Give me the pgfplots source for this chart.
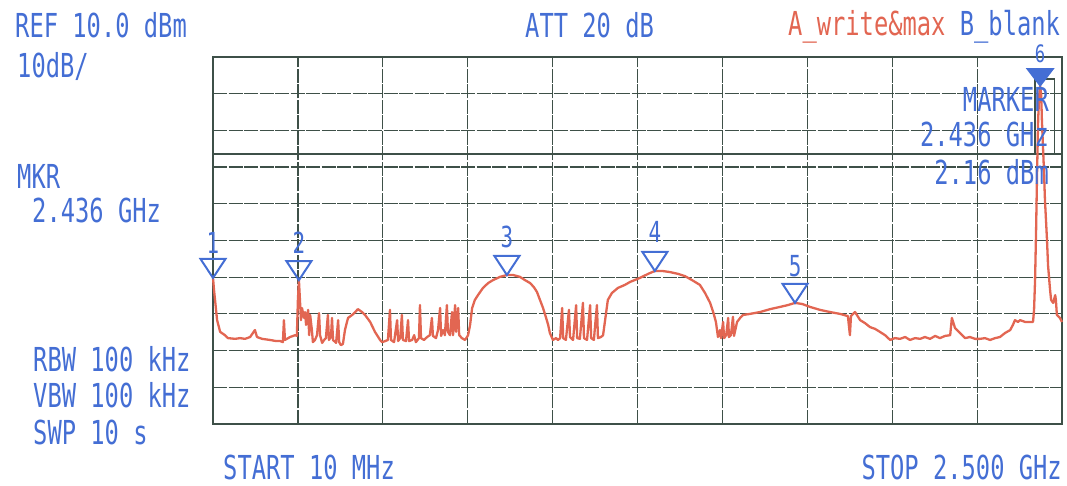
\documentclass[border=0pt]{standalone}
\usepackage{pgfplots}
\pgfplotsset{compat=1.18}
\usepackage{fontspec}
\newfontfamily\lcd[FakeStretch=0.72]{DejaVu Sans Mono}
\definecolor{txtblue}{RGB}{68,110,212}
\definecolor{trace}{RGB}{226,102,82}
\definecolor{gridc}{RGB}{62,80,72}
\pgfdeclareplotmark{mkr}{\pgfpathmoveto{\pgfpointorigin}\pgfpathlineto{\pgfpoint{-12.5pt}{19pt}}\pgfpathlineto{\pgfpoint{12.5pt}{19pt}}\pgfpathclose\pgfusepathqstroke}
\pgfdeclareplotmark{mkrf}{\pgfpathmoveto{\pgfpointorigin}\pgfpathlineto{\pgfpoint{-13pt}{17pt}}\pgfpathlineto{\pgfpoint{13pt}{17pt}}\pgfpathclose\pgfusepathqfillstroke}
\newcommand{\lcdbig}{\lcd\fontsize{33}{40}\selectfont}
\newcommand{\lcdsmall}{\lcd\fontsize{29}{34}\selectfont}
\newcommand{\lcdsix}{\lcd\fontsize{24}{28}\selectfont}
\begin{document}
\begin{tikzpicture}
\path[use as bounding box] (0pt,0pt) rectangle (1067pt,486pt);
\begin{axis}[at={(213pt,62pt)}, anchor=south west, scale only axis,
  width=849pt, height=367pt, xmin=10, xmax=2500, ymin=-90, ymax=10,
  xtick={10,259,508,757,1006,1255,1504,1753,2002,2251,2500},
  ytick={-90,-80,-70,-60,-50,-40,-30,-20,-10,0,10},
  xticklabels={}, yticklabels={}, major tick length=0pt,
  grid=major, major grid style={gridc, line width=1.2pt, dash pattern=on 14pt off 1.5pt},
  axis line style={gridc, line width=1.3pt}, clip=false]
\addplot[gridc, line width=2pt] coordinates {(10,-16.4) (2500,-16.4)};
\draw[gridc, line width=1.2pt] (axis cs:2421,-16.4) -- (axis cs:2421,4.0) -- (axis cs:2477,4.0) -- (axis cs:2477,-16.4);
\addplot[trace, line width=2.3pt, line join=round] coordinates {
(10,-50.2) (13,-53.5) (16,-56.2) (22,-61.7) (31,-64.9) (45,-65.8) (54,-66.6) (75,-66.8) (89,-66.6) (104,-66.8) (119,-66.3) (127,-65.2) (133,-64.4) (139,-66.3) (154,-66.8) (177,-67.1) (195,-67.4) (207,-67.4) (215,-67.7) (218,-61.7) (221,-67.1) (236,-66.3) (251,-65.8) (256,-66.0) (259,-56.2) (262,-50.8) (265,-56.2) (268,-61.7)
(271,-58.4) (277,-61.1) (280,-59.5) (283,-63.0) (289,-58.9) (292,-65.8) (295,-60.3) (300,-64.4) (303,-67.7) (309,-67.1) (315,-65.8) (321,-59.8) (324,-65.8) (330,-67.9) (336,-67.1) (341,-66.6) (347,-60.3) (350,-67.1) (356,-66.3) (359,-61.1) (362,-67.1) (371,-67.9) (377,-61.7) (380,-67.7) (385,-68.5) (391,-68.2)
(397,-64.4) (406,-61.1) (418,-60.3) (427,-59.5) (435,-58.7) (447,-59.5) (456,-60.3) (471,-62.2) (485,-64.9) (500,-67.1) (506,-67.7)
(515,-67.4) (523,-67.1) (529,-58.9) (532,-67.1) (541,-67.7) (550,-61.7) (553,-67.4) (559,-66.6) (564,-60.3) (567,-67.1) (576,-67.4) (582,-61.7) (585,-67.4) (594,-67.1) (600,-65.8) (605,-67.7) (614,-66.6) (617,-57.6) (620,-66.6) (629,-67.1) (638,-66.3) (646,-65.8) (652,-61.1) (655,-66.0) (664,-66.6) (670,-64.4) (676,-58.4) (679,-66.0) (685,-64.4) (690,-65.8) (696,-57.6) (699,-64.9) (705,-65.8) (711,-59.5) (714,-65.8) (720,-57.6) (723,-64.9) (729,-58.4) (732,-65.8) (740,-66.6) (749,-67.1) (755,-66.3) (758,-65.8)
(764,-63.0) (770,-58.4) (778,-56.2) (787,-54.9) (802,-52.9) (817,-51.6) (831,-50.8) (852,-49.9) (872,-49.4) (890,-49.4) (910,-49.9) (925,-50.8) (940,-51.6) (951,-52.7) (960,-54.0) (969,-56.2) (978,-58.4) (987,-61.1) (993,-63.0) (998,-65.2) (1007,-67.1) (1016,-66.6)
(1022,-67.1) (1028,-66.6) (1034,-58.4) (1037,-66.6) (1045,-67.1) (1054,-58.9) (1057,-66.3) (1066,-67.1) (1075,-57.6) (1078,-66.6) (1086,-66.8) (1095,-57.0) (1098,-66.6) (1107,-67.1) (1116,-57.6) (1119,-66.6) (1127,-67.1) (1136,-57.6) (1139,-66.6) (1148,-66.3) (1154,-65.8)
(1160,-61.7) (1168,-56.2) (1180,-54.3) (1198,-52.9) (1218,-52.1) (1233,-51.3) (1262,-50.2) (1286,-49.1) (1306,-48.3) (1327,-48.3) (1350,-48.6) (1374,-49.1) (1394,-49.7) (1415,-50.8) (1438,-52.1) (1453,-54.3) (1468,-57.0) (1477,-59.5) (1485,-62.2) (1491,-66.3)
(1497,-64.4) (1500,-66.6) (1506,-62.2) (1509,-66.6) (1515,-65.8) (1521,-61.1) (1523,-66.3) (1529,-65.8) (1535,-60.8) (1538,-66.0) (1547,-62.2) (1556,-61.1) (1564,-60.3)
(1585,-60.0) (1614,-59.5) (1644,-58.7) (1673,-58.1) (1696,-57.6) (1717,-57.0) (1738,-57.3) (1761,-58.1) (1790,-58.9) (1820,-59.5) (1849,-60.0) (1872,-60.6) (1878,-65.8) (1881,-60.6) (1893,-59.5) (1908,-61.7) (1922,-62.5) (1937,-63.6) (1952,-64.1) (1966,-64.9) (1981,-65.8) (1996,-67.1) (2010,-66.6) (2025,-66.8) (2040,-66.3) (2054,-67.1) (2069,-66.6) (2084,-66.8) (2098,-66.3) (2113,-66.8) (2128,-66.0) (2142,-66.6) (2157,-66.0) (2172,-65.8) (2177,-61.1) (2186,-63.8) (2195,-64.7) (2207,-65.8) (2216,-66.6) (2230,-66.3) (2245,-66.8) (2260,-66.8) (2274,-66.6) (2289,-67.1) (2304,-66.6) (2318,-66.3) (2333,-65.2) (2348,-64.4) (2356,-63.0) (2362,-61.7) (2371,-62.2) (2377,-61.7) (2392,-62.2) (2406,-62.2) (2415,-62.2)
(2418,-58.9) (2421,-50.8) (2424,-37.1) (2427,-20.8) (2430,-7.2) (2433,-0.4) (2436,2.16) (2439,-0.4) (2441,-7.2) (2447,-20.8) (2450,-29.0) (2456,-39.9) (2459,-46.7) (2465,-53.5) (2468,-56.2) (2474,-57.0) (2480,-54.9) (2482,-56.2) (2485,-60.3) (2494,-61.1) (2500,-62.2)
};
\pgfplotsset{mk/.style={txtblue, line width=2pt, mark=mkr, mark options={line width=2pt, solid}}}
\addplot[mk] coordinates {(10,-50.2)} node[anchor=base, yshift=24pt, inner sep=0pt, font=\lcdsmall, text=txtblue] {1};
\addplot[mk] coordinates {(262,-50.8)} node[anchor=base, yshift=27pt, inner sep=0pt, font=\lcdsmall, text=txtblue] {2};
\addplot[mk] coordinates {(872,-49.4)} node[anchor=base, yshift=27pt, inner sep=0pt, font=\lcdsmall, text=txtblue] {3};
\addplot[mk] coordinates {(1306,-48.3)} node[anchor=base, yshift=28pt, inner sep=0pt, font=\lcdsmall, text=txtblue] {4};
\addplot[mk] coordinates {(1717,-57.0)} node[anchor=base, yshift=26pt, inner sep=0pt, font=\lcdsmall, text=txtblue] {5};
\addplot[txtblue, fill=txtblue, line width=1.5pt, mark=mkrf, mark options={line width=1.5pt, fill=txtblue}] coordinates {(2436,2.16)} node[anchor=base, yshift=23pt, inner sep=0pt, font=\lcdsix, text=txtblue] {6};
\end{axis}
\begin{scope}[every node/.style={inner sep=0pt, text=txtblue, font=\lcdbig}]
\node[anchor=base west] at (15pt,448pt) {REF 10.0 dBm};
\node[anchor=base west] at (17pt,408pt) {10dB/};
\node[anchor=base west] at (17pt,297pt) {MKR};
\node[anchor=base west] at (32pt,263pt) {2.436 GHz};
\node[anchor=base west] at (525pt,448pt) {ATT 20 dB};
\node[anchor=base west] at (788pt,450pt) {\textcolor{trace}{A\_write\&max} B\_blank};
\node[anchor=base east] at (1049pt,374pt) {MARKER};
\node[anchor=base east] at (1049pt,339pt) {2.436 GHz};
\node[anchor=base east] at (1049pt,301pt) {2.16 dBm};
\node[anchor=base west] at (33pt,114pt) {RBW 100 kHz};
\node[anchor=base west] at (33pt,78pt) {VBW 100 kHz};
\node[anchor=base west] at (33pt,41pt) {SWP 10 s};
\node[anchor=base west] at (223pt,6pt) {START 10 MHz};
\node[anchor=base east] at (1062pt,6pt) {STOP 2.500 GHz};
\end{scope}
\end{tikzpicture}
\end{document}
